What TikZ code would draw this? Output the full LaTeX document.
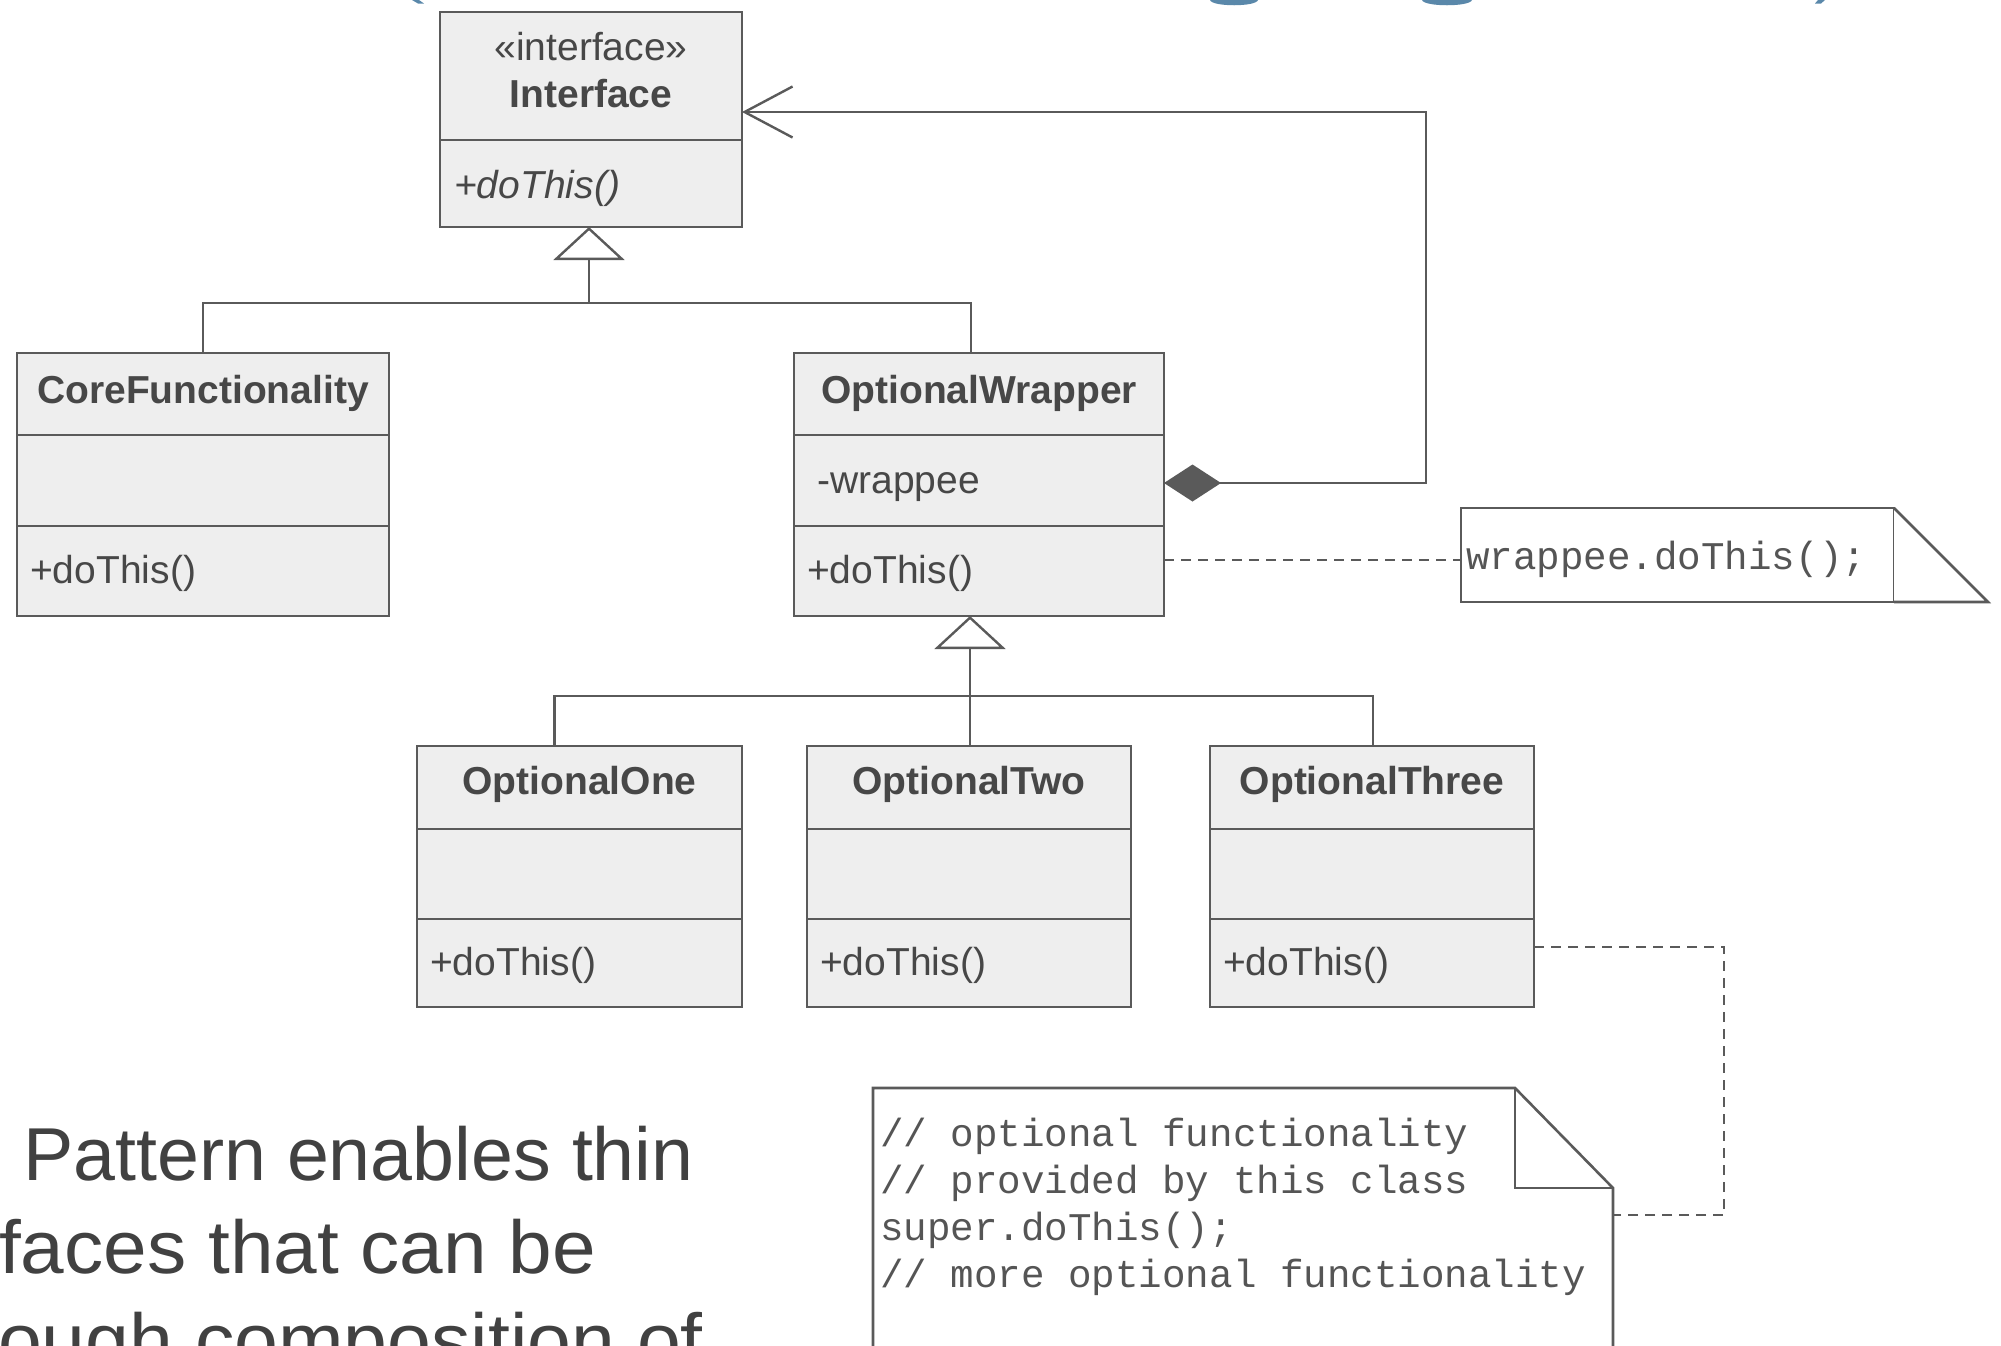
\documentclass[tikz,border=0pt]{standalone}
\usepackage{graphicx}
\usepackage{fontspec}
\setmainfont{Liberation Sans}
\newfontfamily\codefont{Liberation Mono}
\usetikzlibrary{arrows.meta,calc}
\definecolor{linec}{HTML}{5A5A5A}
\definecolor{fillc}{HTML}{EEEEEE}
\definecolor{textc}{HTML}{474747}
\definecolor{codec}{HTML}{555555}
\definecolor{bluec}{HTML}{5A88AA}
\definecolor{slidec}{HTML}{414141}
\begin{document}
\begin{tikzpicture}[x=1pt,y=-1pt,
  classbox/.style={draw=linec, fill=fillc, line width=2.8pt, inner sep=0pt, outer sep=0pt, rectangle},
  divider/.style={draw=linec, line width=2.8pt},
  conn/.style={draw=linec, line width=2.4pt},
  notelink/.style={draw=linec, line width=2.4pt, dash pattern=on 10pt off 7pt},
  notebox/.style={draw=linec, line width=2.6pt, fill=white},
  lbl/.style={text=textc, inner sep=0pt, font=\fontsize{39}{44}\selectfont},
  ttl/.style={lbl, font=\fontsize{39}{44}\selectfont\bfseries, anchor=base},
  mem/.style={lbl, anchor=base west},
  code/.style={text=codec, inner sep=0pt, anchor=base west, font=\codefont\fontsize{39.2}{46.7}\selectfont},
  slide/.style={text=slidec, inner sep=0pt, font=\fontsize{75}{93}\selectfont},
  gen/.style={conn, -{Triangle[open, length=33pt, width=71pt, fill=white]}},
]
\useasboundingbox (0,0) rectangle (2001,1345);
\clip (0,0) rectangle (2001,1345);

% title fragments (cut off at the top)
\fill[bluec] (1210,0) .. controls (1212,7) and (1256,7) .. (1258,0) -- cycle;
\fill[bluec] (1422,0) .. controls (1424,7) and (1470,7) .. (1472,0) -- cycle;
\fill[bluec] (412,0) -- (419,0) -- (424,3.5) -- (418,3.5) -- cycle;
\fill[bluec] (1818,0) -- (1825,0) -- (1821,3.5) -- (1815,3.5) -- cycle;

% class boxes
\node[classbox, minimum width=302pt, minimum height=215pt] (iface) at (591,119.5) {};
\draw[divider] (iface.west |- 0,140) -- (iface.east |- 0,140);
\node[lbl, anchor=base] (ifst) at (591,60) {«interface»};
\node[ttl] (ifnm) at (591,107) {Interface};
\node[lbl, anchor=base west, font=\fontsize{39}{44}\selectfont\itshape] (ifop) at (454,198) {+doThis()};

\node[classbox, minimum width=372pt, minimum height=263pt] (core) at (203,484.5) {};
\draw[divider] (core.west |- 0,435) -- (core.east |- 0,435);
\draw[divider] (core.west |- 0,526) -- (core.east |- 0,526);
\node[ttl] (corenm) at (203,403) {CoreFunctionality};
\node[mem] (coreop) at (30,583) {+doThis()};

\node[classbox, minimum width=370pt, minimum height=263pt] (wrapper) at (979,484.5) {};
\draw[divider] (wrapper.west |- 0,435) -- (wrapper.east |- 0,435);
\draw[divider] (wrapper.west |- 0,526) -- (wrapper.east |- 0,526);
\node[ttl] (wrapnm) at (979,403) {OptionalWrapper};
\node[mem] (wrapat) at (817,493) {-wrappee};
\node[mem] (wrapop) at (807,583) {+doThis()};

\node[classbox, minimum width=325pt, minimum height=261pt] (one) at (579.5,876.5) {};
\draw[divider] (one.west |- 0,829) -- (one.east |- 0,829);
\draw[divider] (one.west |- 0,919) -- (one.east |- 0,919);
\node[ttl] (onenm) at (579.5,794) {OptionalOne};
\node[mem] (oneop) at (430,975) {+doThis()};

\node[classbox, minimum width=324pt, minimum height=261pt] (two) at (969,876.5) {};
\draw[divider] (two.west |- 0,829) -- (two.east |- 0,829);
\draw[divider] (two.west |- 0,919) -- (two.east |- 0,919);
\node[ttl] (twonm) at (969,794) {OptionalTwo};
\node[mem] (twoop) at (820,975) {+doThis()};

\node[classbox, minimum width=324pt, minimum height=261pt] (three) at (1372,876.5) {};
\draw[divider] (three.west |- 0,829) -- (three.east |- 0,829);
\draw[divider] (three.west |- 0,919) -- (three.east |- 0,919);
\node[ttl] (threenm) at (1372,794) {OptionalThree};
\node[mem] (threeop) at (1223,975) {+doThis()};

% generalization: Interface
\coordinate (j1) at (589,303);
\draw[conn] (core.north) |- (j1) -| (wrapper.north -| 971,0);
\draw[gen] (j1) -- (iface.south -| j1);

% generalization: OptionalWrapper
\coordinate (j2) at (970,696);
\draw[conn] (one.north -| 554.5,0) |- (j2) -| (three.north -| 1373,0);
\draw[conn] (two.north -| 970,0) -- (j2);
\draw[gen] (j2) -- (wrapper.south -| j2);

% composition / association back to Interface
\draw[conn, {Diamond[length=57pt, width=37pt]}-{Straight Barb[length=48pt, width=51pt]}]
  (wrapper.east |- 0,483) -| (1426,112) -- (iface.east |- 0,112);

% note 1
\node[notebox, minimum width=433pt, minimum height=94pt, inner sep=0pt, outer sep=0pt] (note1) at (1677.5,555) {};
\draw[notebox] (note1.north east) -- ++(94,94) -- (note1.south east);
\node[code] (n1t) at (1466,569) {wrappee.doThis();};
\draw[notelink] (wrapper.east |- 0,560) -- (note1.west |- 0,560);

% note 2
\node[minimum width=740pt, minimum height=312pt, inner sep=0pt, outer sep=0pt] (note2) at (1243,1244) {};
\draw[notebox] (note2.south west) -- (note2.north west) -- ($(note2.north east)+(-98,0)$) -- ($(note2.north east)+(0,100)$) -- (note2.south east);
\draw[notebox, fill=none] ($(note2.north east)+(-98,0)$) -- ++(0,100) -- ++(98,0);
\node[code] (n2a) at (880,1146) {// optional functionality};
\node[code] (n2b) at (880,1193) {// provided by this class};
\node[code] (n2c) at (880,1240) {super.doThis();};
\node[code] (n2d) at (880,1287) {// more optional functionality};
\draw[notelink] (three.east |- 0,947) -| (1724,1215) -- (note2.east |- 0,1215);

% slide text (cut off)
\node[slide, anchor=base west] (s1) at (23,1180) {\scalebox{1.005}[1]{Pattern enables thin}};
\node[slide, anchor=base west] (s2) at (-1,1273) {\scalebox{1.045}[1]{faces that can be}};
\node[slide, anchor=base west] (s3) at (-2,1366) {\scalebox{1.05}[1]{ough composition of}};
\end{tikzpicture}
\end{document}
